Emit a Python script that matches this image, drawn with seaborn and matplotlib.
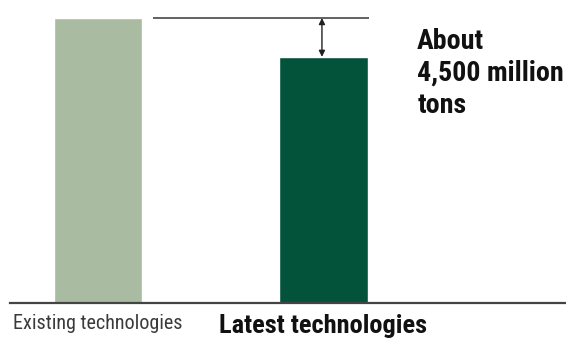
import matplotlib
matplotlib.use("Agg")
import matplotlib.pyplot as plt
import seaborn as sns
import pandas as pd

# CO2 emissions, million tons
categories = ["Existing technologies", "Latest technologies"]
emissions = [33000, 28500]
bar_colors = ["#a9bba0", "#03533b"]
reduction_label = "About\n4,500 million\ntons"

sns.set_theme(style="white")
plt.rcParams["font.family"] = ["Roboto Condensed", "Archivo Narrow", "DejaVu Sans"]

df = pd.DataFrame({"technology": categories, "emissions": emissions})

fig = plt.figure(figsize=(5.66, 3.41), dpi=100)
ax = fig.add_axes([10 / 566, 38 / 341, 556 / 566, 303 / 341])

sns.barplot(data=df, x="technology", y="emissions", hue="technology",
            palette=bar_colors, width=0.392, saturation=1, legend=False, ax=ax)

ymax = emissions[0] * 303 / 285
ax.set_xlim(-0.39, 2.075)
ax.set_ylim(0, ymax)

# Reference level of the existing technologies
ax.plot([0.244, 1.2], [emissions[0], emissions[0]], color="#555555", lw=1.3,
        solid_capstyle="butt", zorder=3)
# Double arrow showing the reduction
ax.annotate("", xy=(0.993, emissions[1]), xytext=(0.993, emissions[0]),
            arrowprops=dict(arrowstyle="<|-|>", color="#222222", lw=1.0,
                            mutation_scale=9, shrinkA=0, shrinkB=0))
ax.text(1.415, ymax * (1 - 28 / 303), reduction_label, ha="left", va="top",
        fontsize=20.2, fontweight="bold", color="#111111", linespacing=1.23)

for s in ["top", "left", "right"]:
    ax.spines[s].set_visible(False)
ax.spines["bottom"].set_color("#444444")
ax.spines["bottom"].set_linewidth(1.6)

ax.set_yticks([])
ax.set_ylabel("")
ax.set_xlabel("")
ax.set_xticks([0, 1])
ax.set_xticklabels(categories)
ax.tick_params(axis="x", length=0, pad=8)
labels = ax.get_xticklabels()
labels[0].set_fontsize(14.5)
labels[0].set_color("#3a3a3a")
labels[1].set_fontsize(19)
labels[1].set_fontweight("bold")
labels[1].set_color("#111111")

fig.savefig("out.png", dpi=100)
